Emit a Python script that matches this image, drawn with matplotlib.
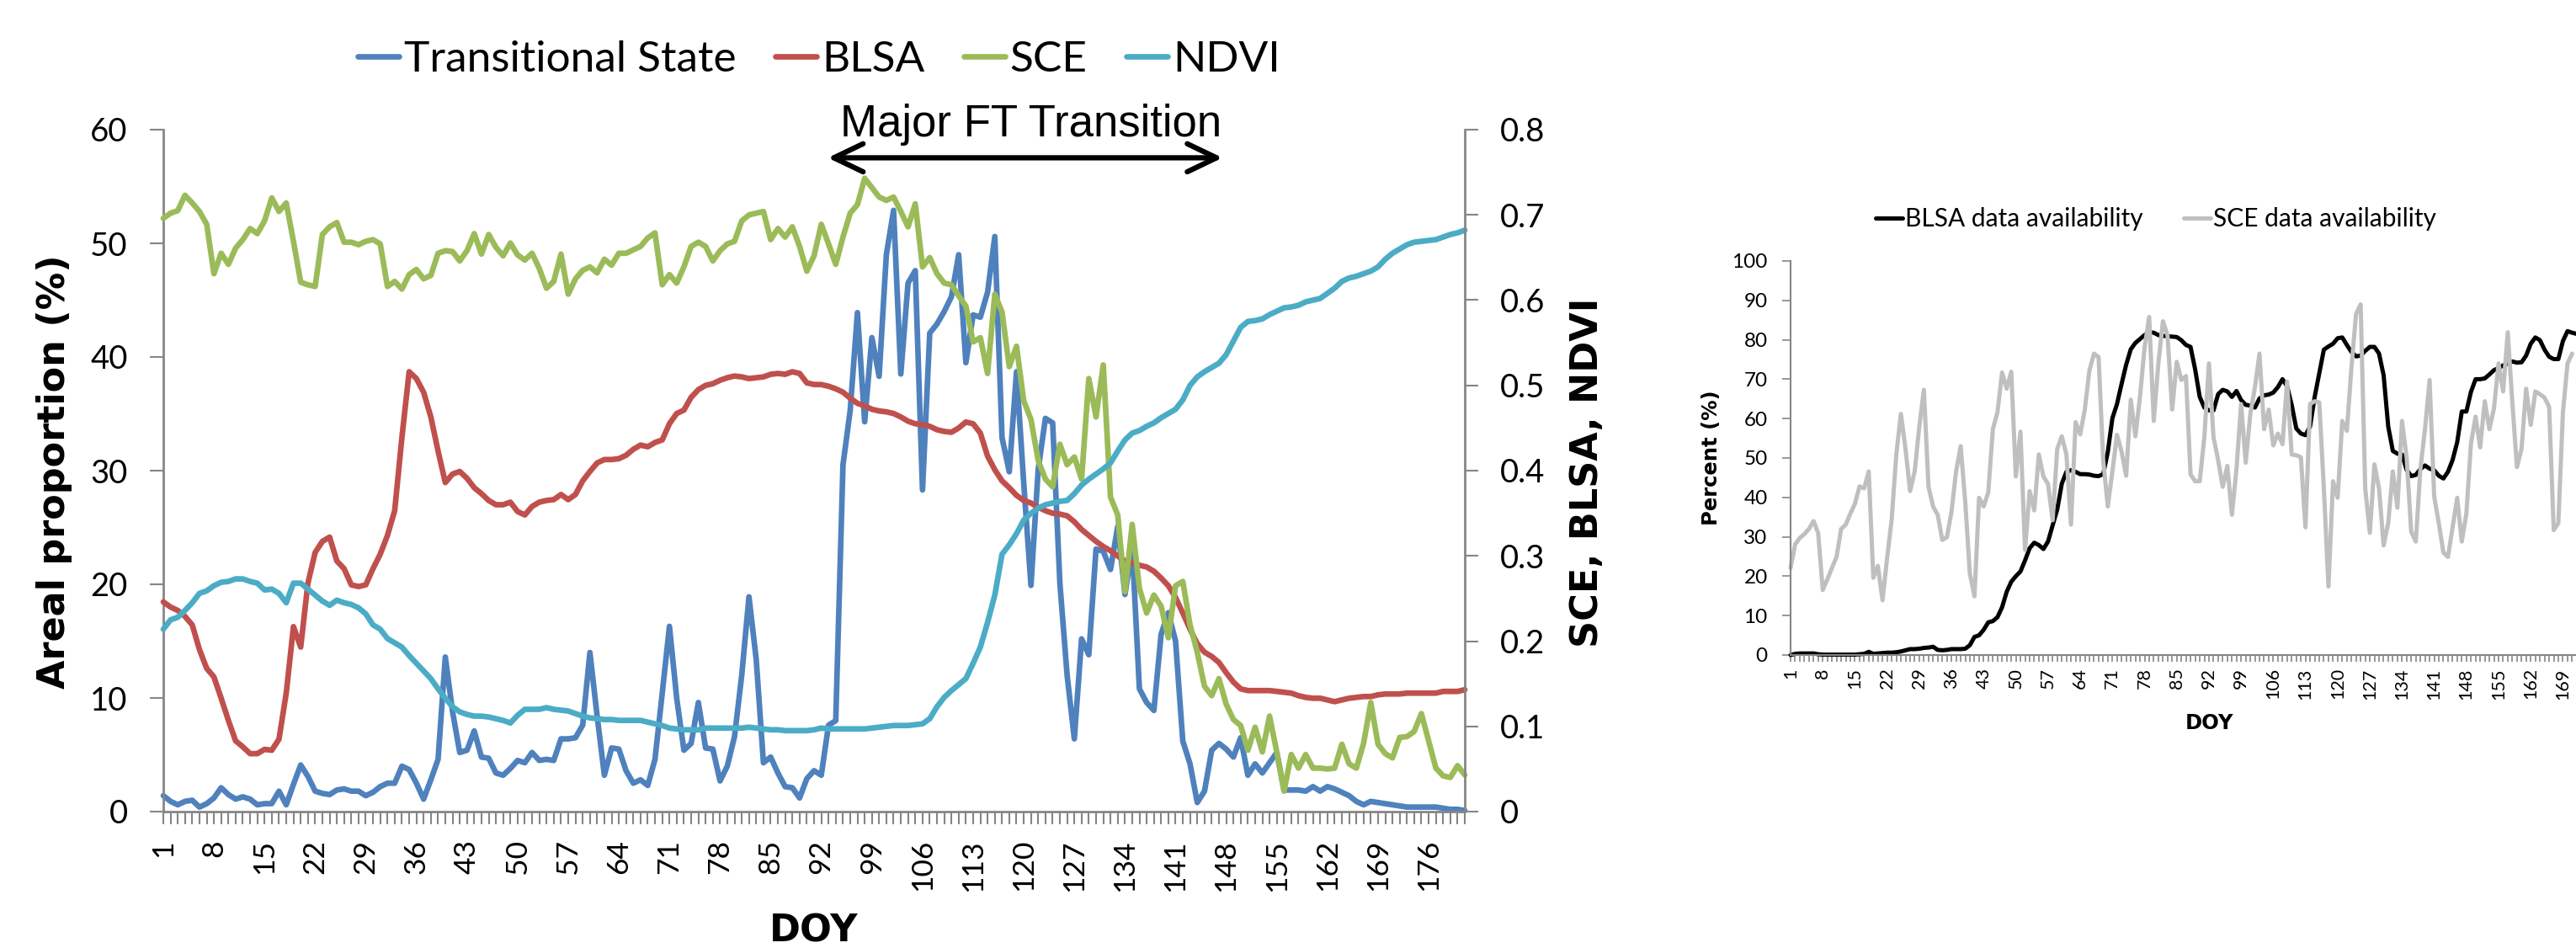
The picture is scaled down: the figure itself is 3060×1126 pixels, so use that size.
import numpy as np
import matplotlib as mpl
mpl.use('Agg')
import matplotlib.pyplot as plt

plt.rcParams['font.family'] = ['Lato', 'DejaVu Sans']

# ---- left chart: areal proportion of transitional state + SCE/BLSA/NDVI ----
doy = np.arange(1, 182)

transitional = [
    1.4, 0.9, 0.6, 0.9, 1.0, 0.4, 0.7, 1.2, 2.1, 1.5,
    1.1, 1.3, 1.1, 0.6, 0.7, 0.7, 1.8, 0.6, 2.4, 4.1,
    3.1, 1.8, 1.6, 1.5, 1.9, 2.0, 1.8, 1.8, 1.4, 1.7,
    2.2, 2.5, 2.5, 4.0, 3.7, 2.5, 1.1, 2.8, 4.6, 13.6,
    8.8, 5.2, 5.4, 7.1, 4.8, 4.7, 3.4, 3.2, 3.8, 4.5,
    4.3, 5.2, 4.5, 4.6, 4.5, 6.4, 6.4, 6.5, 7.6, 14.0,
    8.4, 3.2, 5.6, 5.5, 3.6, 2.5, 2.8, 2.3, 4.6, 10.4,
    16.3, 10.0, 5.4, 6.0, 9.6, 5.6, 5.5, 2.7, 4.0, 6.6,
    12.0, 18.9, 13.4, 4.3, 4.8, 3.4, 2.2, 2.1, 1.2, 2.9,
    3.6, 3.2, 7.6, 8.0, 30.5, 35.3, 43.9, 34.3, 41.7, 38.3,
    49.0, 52.9, 38.5, 46.5, 47.6, 28.3, 42.1, 42.9, 44.0, 45.3,
    49.0, 39.5, 43.7, 43.5, 45.7, 50.6, 32.9, 29.9, 38.7, 28.9,
    19.9, 30.1, 34.6, 34.2, 20.1, 12.0, 6.4, 15.2, 13.8, 23.1,
    22.9, 21.3, 25.1, 19.1, 23.3, 10.8, 9.6, 8.9, 15.6, 17.5,
    15.0, 6.2, 4.2, 0.8, 1.8, 5.4, 6.0, 5.5, 4.8, 6.5,
    3.2, 4.2, 3.4, 4.3, 5.2, 1.9, 1.9, 1.9, 1.8, 2.2,
    1.8, 2.2, 2.0, 1.7, 1.4, 0.9, 0.6, 0.9, 0.8, 0.7,
    0.6, 0.5, 0.4, 0.4, 0.4, 0.4, 0.4, 0.3, 0.2, 0.2, 0.1]

blsa = [
    0.246, 0.240, 0.236, 0.229, 0.219, 0.190, 0.168, 0.158, 0.133, 0.107,
    0.083, 0.076, 0.068, 0.068, 0.073, 0.072, 0.085, 0.139, 0.217, 0.193,
    0.268, 0.304, 0.317, 0.322, 0.294, 0.285, 0.266, 0.264, 0.266, 0.285,
    0.302, 0.324, 0.353, 0.439, 0.516, 0.508, 0.492, 0.463, 0.423, 0.386,
    0.396, 0.399, 0.391, 0.380, 0.373, 0.365, 0.360, 0.360, 0.363, 0.352,
    0.348, 0.358, 0.363, 0.365, 0.366, 0.372, 0.366, 0.372, 0.388, 0.399,
    0.409, 0.413, 0.413, 0.414, 0.418, 0.425, 0.430, 0.428, 0.433, 0.436,
    0.455, 0.467, 0.471, 0.486, 0.495, 0.500, 0.502, 0.506, 0.509, 0.511,
    0.510, 0.508, 0.509, 0.510, 0.513, 0.514, 0.513, 0.516, 0.514, 0.503,
    0.501, 0.501, 0.499, 0.496, 0.492, 0.485, 0.479, 0.476, 0.472, 0.470,
    0.469, 0.467, 0.463, 0.458, 0.455, 0.454, 0.452, 0.448, 0.446, 0.445,
    0.450, 0.457, 0.455, 0.444, 0.417, 0.401, 0.388, 0.380, 0.371, 0.365,
    0.362, 0.357, 0.353, 0.350, 0.349, 0.347, 0.340, 0.331, 0.324, 0.317,
    0.311, 0.306, 0.300, 0.294, 0.292, 0.289, 0.287, 0.282, 0.274, 0.265,
    0.251, 0.233, 0.214, 0.197, 0.187, 0.182, 0.175, 0.163, 0.152, 0.144,
    0.142, 0.142, 0.142, 0.142, 0.141, 0.140, 0.139, 0.136, 0.134, 0.133,
    0.133, 0.131, 0.129, 0.131, 0.133, 0.134, 0.135, 0.135, 0.137, 0.138,
    0.138, 0.138, 0.139, 0.139, 0.139, 0.139, 0.139, 0.141, 0.141, 0.141, 0.143]

sce = [
    0.696, 0.702, 0.705, 0.723, 0.714, 0.704, 0.689, 0.631, 0.655, 0.642,
    0.661, 0.671, 0.684, 0.678, 0.693, 0.720, 0.704, 0.714, 0.669, 0.621,
    0.618, 0.616, 0.677, 0.686, 0.691, 0.668, 0.668, 0.665, 0.669, 0.671,
    0.666, 0.616, 0.622, 0.613, 0.630, 0.636, 0.625, 0.629, 0.655, 0.658,
    0.657, 0.646, 0.658, 0.678, 0.654, 0.677, 0.662, 0.652, 0.667, 0.653,
    0.647, 0.655, 0.637, 0.614, 0.622, 0.654, 0.607, 0.625, 0.635, 0.639,
    0.632, 0.648, 0.641, 0.655, 0.655, 0.659, 0.663, 0.673, 0.679, 0.618,
    0.630, 0.620, 0.639, 0.663, 0.668, 0.663, 0.646, 0.658, 0.666, 0.669,
    0.693, 0.700, 0.702, 0.704, 0.671, 0.684, 0.674, 0.686, 0.663, 0.634,
    0.652, 0.689, 0.666, 0.642, 0.674, 0.702, 0.712, 0.743, 0.732, 0.721,
    0.717, 0.721, 0.704, 0.686, 0.713, 0.639, 0.650, 0.631, 0.620, 0.618,
    0.605, 0.593, 0.551, 0.556, 0.514, 0.607, 0.586, 0.522, 0.546, 0.482,
    0.460, 0.412, 0.390, 0.381, 0.431, 0.407, 0.416, 0.390, 0.508, 0.463,
    0.524, 0.369, 0.348, 0.258, 0.337, 0.262, 0.233, 0.254, 0.241, 0.204,
    0.265, 0.270, 0.219, 0.187, 0.147, 0.136, 0.156, 0.126, 0.108, 0.101,
    0.072, 0.099, 0.070, 0.112, 0.070, 0.024, 0.067, 0.051, 0.067, 0.051,
    0.051, 0.050, 0.051, 0.079, 0.056, 0.051, 0.080, 0.128, 0.079, 0.068,
    0.063, 0.087, 0.088, 0.094, 0.115, 0.083, 0.051, 0.042, 0.040, 0.054, 0.043]

ndvi = [
    0.214, 0.225, 0.228, 0.236, 0.245, 0.256, 0.259, 0.265, 0.269, 0.270,
    0.273, 0.273, 0.270, 0.268, 0.260, 0.261, 0.256, 0.245, 0.268, 0.268,
    0.261, 0.254, 0.247, 0.242, 0.248, 0.245, 0.243, 0.239, 0.232, 0.219,
    0.214, 0.203, 0.198, 0.193, 0.183, 0.174, 0.165, 0.156, 0.144, 0.133,
    0.123, 0.117, 0.114, 0.112, 0.112, 0.111, 0.109, 0.107, 0.104, 0.113,
    0.120, 0.120, 0.120, 0.122, 0.120, 0.119, 0.118, 0.115, 0.112, 0.110,
    0.109, 0.108, 0.108, 0.107, 0.107, 0.107, 0.107, 0.105, 0.103, 0.101,
    0.098, 0.097, 0.096, 0.096, 0.096, 0.098, 0.098, 0.098, 0.098, 0.098,
    0.098, 0.099, 0.098, 0.097, 0.096, 0.096, 0.095, 0.095, 0.095, 0.095,
    0.096, 0.098, 0.097, 0.097, 0.097, 0.097, 0.097, 0.097, 0.098, 0.099,
    0.100, 0.101, 0.101, 0.101, 0.102, 0.103, 0.109, 0.123, 0.134, 0.142,
    0.149, 0.156, 0.174, 0.193, 0.222, 0.254, 0.302, 0.313, 0.326, 0.342,
    0.350, 0.356, 0.360, 0.362, 0.364, 0.365, 0.373, 0.383, 0.390, 0.396,
    0.402, 0.409, 0.423, 0.436, 0.444, 0.447, 0.452, 0.456, 0.462, 0.467,
    0.472, 0.483, 0.500, 0.510, 0.516, 0.521, 0.526, 0.536, 0.552, 0.568,
    0.575, 0.576, 0.578, 0.583, 0.587, 0.591, 0.592, 0.594, 0.598, 0.600,
    0.602, 0.608, 0.614, 0.622, 0.626, 0.628, 0.631, 0.634, 0.639, 0.648,
    0.655, 0.660, 0.665, 0.668, 0.669, 0.670, 0.671, 0.674, 0.677, 0.679, 0.682]

# ---- right chart: data availability (%) ----
blsa_avail = [
    0.0, 0.3, 0.4, 0.4, 0.4, 0.4, 0.2, 0.1, 0.1, 0.1,
    0.1, 0.1, 0.1, 0.1, 0.1, 0.2, 0.3, 0.8, 0.3, 0.4,
    0.5, 0.6, 0.6, 0.7, 0.9, 1.2, 1.5, 1.5, 1.6, 1.8,
    1.9, 2.1, 1.3, 1.2, 1.3, 1.5, 1.5, 1.5, 1.6, 2.5,
    4.6, 5.0, 6.4, 8.3, 8.6, 9.6, 12.1, 16.0, 18.6, 20.0,
    21.2, 24.0, 27.1, 28.5, 27.9, 26.9, 28.8, 32.9, 36.9, 43.5,
    46.5, 46.9, 46.5, 45.9, 45.9, 45.8, 45.5, 45.4, 45.9, 51.5,
    60.1, 63.7, 68.8, 73.7, 77.6, 79.2, 80.2, 81.2, 81.9, 81.8,
    81.2, 81.0, 80.9, 80.8, 80.7, 79.9, 78.7, 78.2, 72.5, 65.5,
    62.8, 62.1, 62.1, 66.2, 67.3, 66.9, 65.5, 67.0, 64.7, 63.5,
    63.3, 62.8, 65.1, 65.9, 66.1, 66.6, 68.0, 70.0, 68.2, 63.5,
    57.5, 56.2, 55.8, 58.0, 65.5, 71.5, 77.5, 78.3, 79.0, 80.4,
    80.6, 78.7, 76.9, 75.8, 76.0, 77.2, 78.2, 78.2, 76.5, 71.0,
    58.0, 51.8, 51.1, 50.9, 47.0, 45.4, 45.7, 47.2, 48.1, 47.3,
    46.9, 45.5, 44.8, 46.5, 49.5, 54.0, 61.8, 61.8, 66.8, 70.0,
    70.0, 70.2, 71.2, 72.3, 72.8, 73.5, 74.0, 74.5, 74.2, 74.3,
    76.0, 79.0, 80.6, 79.9, 77.5, 75.7, 75.1, 75.1, 79.7, 82.2,
    81.8, 81.5]
doy_blsa_avail = np.arange(1, len(blsa_avail) + 1)

sce_avail = [
    22.1, 28.1, 29.7, 30.7, 32.0, 34.0, 31.0, 16.5, 19.2, 22.1,
    24.9, 32.0, 33.1, 35.9, 38.4, 42.8, 42.3, 46.6, 19.6, 22.6,
    13.9, 24.6, 34.5, 50.9, 61.2, 52.3, 41.6, 46.6, 58.0, 67.3,
    42.7, 37.7, 35.6, 29.2, 29.9, 36.3, 46.6, 53.0, 38.8, 20.6,
    14.9, 39.9, 37.7, 41.3, 57.3, 61.6, 71.7, 67.6, 71.9, 45.3,
    56.7, 26.7, 41.6, 36.7, 50.9, 45.3, 43.4, 34.2, 52.3, 55.5,
    50.9, 33.1, 59.1, 56.0, 62.3, 72.2, 76.5, 75.6, 49.5, 37.7,
    46.6, 55.9, 51.6, 45.5, 64.8, 55.5, 65.5, 78.0, 85.8, 59.4,
    74.0, 84.7, 81.1, 62.3, 74.4, 69.8, 70.8, 45.9, 44.1, 44.1,
    55.2, 74.0, 55.2, 49.5, 42.7, 48.0, 35.6, 47.3, 63.7, 48.8,
    61.2, 67.9, 76.5, 57.3, 62.3, 53.2, 56.2, 53.5, 69.4, 50.9,
    50.7, 50.2, 32.4, 63.7, 64.4, 64.1, 42.3, 17.4, 44.1, 39.9,
    59.4, 56.9, 73.0, 86.5, 89.0, 42.3, 31.0, 48.4, 42.3, 27.8,
    33.5, 46.6, 37.4, 59.4, 50.2, 31.3, 28.8, 47.3, 57.3, 69.8,
    40.2, 33.5, 26.0, 24.9, 32.4, 39.9, 28.8, 35.9, 53.7, 60.5,
    52.7, 64.4, 57.3, 62.6, 74.0, 66.9, 81.9, 64.1, 47.7, 52.3,
    67.6, 58.4, 66.9, 66.2, 65.3, 63.0, 31.7, 33.5, 61.6, 74.0,
    76.5]
doy_sce_avail = np.arange(1, len(sce_avail) + 1)

label_days = list(range(1, 182, 7))
right_ticks = [0, 0.1, 0.2, 0.3, 0.4, 0.5, 0.6, 0.7, 0.8]
right_ticklabels = ['0', '0.1', '0.2', '0.3', '0.4', '0.5', '0.6', '0.7', '0.8']

c_blue = '#4F81BD'
c_red = '#C0504D'
c_green = '#9BBB59'
c_teal = '#4BACC6'
axis_gray = '#868686'

W, H = 3060, 1126
fig = plt.figure(figsize=(W / 100, H / 100), dpi=100)


def fbox(x0, y0, x1, y1):
    # pixel box (top-left origin) -> figure fraction
    return [x0 / W, 1 - y1 / H, (x1 - x0) / W, (y1 - y0) / H]


lw = 4.8
kw = dict(lw=lw, solid_joinstyle='round', solid_capstyle='round', clip_on=False)

ax = fig.add_axes(fbox(194, 154, 1740, 964))
ax2 = ax.twinx()
p1, = ax.plot(doy, transitional, color=c_blue, label='Transitional State', **kw)
p2, = ax2.plot(doy, blsa, color=c_red, label='BLSA', **kw)
p3, = ax2.plot(doy, sce, color=c_green, label='SCE', **kw)
p4, = ax2.plot(doy, ndvi, color=c_teal, label='NDVI', **kw)

ax.set_xlim(1, 181)
ax.set_ylim(0, 60)
ax2.set_ylim(0, 0.8)
ax.set_xticks(doy)
ax.set_xticklabels([str(d) if d in label_days else '' for d in doy],
                   rotation=90, fontsize=25.5)
ax.set_yticks(range(0, 61, 10))
ax.tick_params(axis='y', labelsize=27.5, length=11.5, width=1.5,
               color=axis_gray, pad=19)
ax.tick_params(axis='x', length=10.8, width=1.5, color=axis_gray, pad=13)
ax2.set_yticks(right_ticks)
ax2.set_yticklabels(right_ticklabels)
ax2.tick_params(axis='y', labelsize=27.5, length=11.5, width=1.5,
                color=axis_gray, pad=19)

for s in ['top', 'right']:
    ax.spines[s].set_visible(False)
for s in ['top', 'left', 'bottom']:
    ax2.spines[s].set_visible(False)
for s in ['left', 'bottom']:
    ax.spines[s].set_color(axis_gray)
    ax.spines[s].set_linewidth(2)
ax2.spines['right'].set_color(axis_gray)
ax2.spines['right'].set_linewidth(2)

lines = [p1, p2, p3, p4]
fig.legend(lines, [l.get_label() for l in lines], loc='center',
           bbox_to_anchor=(973 / W, 1 - 71 / H), ncol=4, frameon=False,
           fontsize=37, handlelength=0.95, handletextpad=0.12,
           columnspacing=0.9, borderaxespad=0)

# major freeze/thaw transition arrow
ax2.annotate('', xy=(147.5, 0.767), xytext=(92.9, 0.767),
             annotation_clip=False,
             arrowprops=dict(arrowstyle='<->,head_length=1.0,head_width=0.48',
                             lw=4.5, color='black', mutation_scale=25,
                             shrinkA=0, shrinkB=0))
fig.text(1225 / W, 1 - 148 / H, 'Major FT Transition', fontsize=38,
         family='Liberation Sans', ha='center', va='center')

bold = dict(family='DejaVu Sans', fontweight='bold', ha='center', va='center')
fig.text(65 / W, 1 - 560 / H, 'Areal proportion (%)', rotation=90,
         fontsize=32, **bold)
fig.text(1886 / W, 1 - 561 / H, 'SCE, BLSA, NDVI', rotation=90,
         fontsize=32, **bold)
fig.text(967 / W, 1 - 1106 / H, 'DOY', fontsize=32, **bold)

# ---- right chart (runs past the right edge of the picture) ----
ax3 = fig.add_axes(fbox(2127, 310, 3110, 778))
kw3 = dict(lw=3.6, solid_joinstyle='round', solid_capstyle='round', clip_on=False)
q1, = ax3.plot(doy_blsa_avail, blsa_avail, color='black',
               label='BLSA data availability', **kw3)
q2, = ax3.plot(doy_sce_avail, sce_avail, color='#BFBFBF',
               label='SCE data availability', **kw3)
ax3.set_xlim(1, 181)
ax3.set_ylim(0, 100)
ax3.set_xticks(doy)
ax3.set_xticklabels([str(d) if d in label_days and d < 170 else '' for d in doy],
                    rotation=90, fontsize=15.5)
ax3.set_yticks(range(0, 101, 10))
ax3.tick_params(axis='y', labelsize=17.5, length=7, width=1.2,
                color=axis_gray, pad=12.7)
ax3.tick_params(axis='x', length=6, width=1.2, color=axis_gray, pad=5)
for s in ['top', 'right']:
    ax3.spines[s].set_visible(False)
for s in ['left', 'bottom']:
    ax3.spines[s].set_color(axis_gray)
    ax3.spines[s].set_linewidth(1.5)

lines3 = [q1, q2]
fig.legend(lines3, [l.get_label() for l in lines3], loc='center',
           bbox_to_anchor=(2561 / W, 1 - 260 / H), ncol=2, frameon=False,
           fontsize=21.5, handlelength=1.07, handletextpad=0.1,
           columnspacing=1.6, borderaxespad=0)
fig.text(2033 / W, 1 - 544 / H, 'Percent (%)', rotation=90,
         fontsize=17.5, **bold)
fig.text(2625 / W, 1 - 859 / H, 'DOY', fontsize=17.5, **bold)

fig.savefig('out.png', dpi=100)
